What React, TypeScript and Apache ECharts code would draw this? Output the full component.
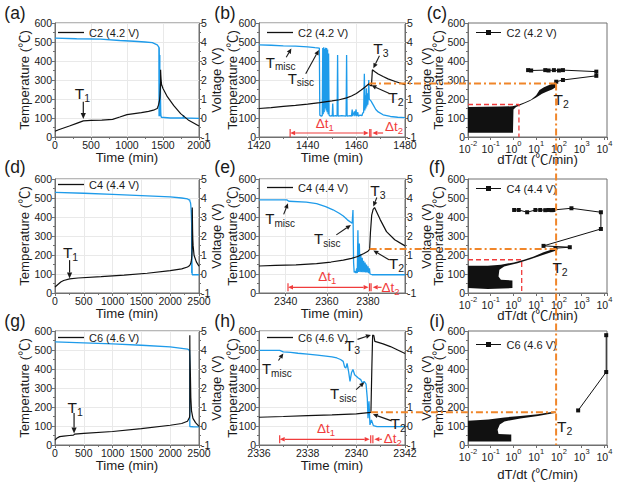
import React, { useEffect, useRef } from "react";
import * as echarts from "echarts";

type P = [number, number];

const FONT = "'Liberation Sans', Arial, 'Noto Sans CJK SC', sans-serif";
const BLACK = "#111111";
const BLUE = "#1E9BEA";
const ORANGE = "#F0862A";
const RED = "#F03C3C";
const AXIS = "#707070";
const TXT = "#1a1a1a";

// ---------------- data ----------------
const cellNames = ["C2 (4.2 V)", "C4 (4.4 V)", "C6 (4.6 V)"];

// Row 1 : C2 (4.2 V)
const aTempPre: P[] = [[0, 30], [50, 38], [100, 45], [200, 58], [300, 72], [393, 85], [500, 87], [650, 89], [800, 93], [900, 105], [1000, 118], [1100, 123], [1200, 128], [1300, 135], [1380, 143]];
const bTemp: P[] = [[1420, 150], [1425, 155], [1430, 161], [1435, 166], [1440, 173], [1445, 181], [1450, 190], [1453, 196], [1456, 206], [1458, 216], [1460, 229], [1462, 247], [1463.5, 262], [1465.2, 280], [1465.7, 272], [1466.2, 268], [1466.6, 354], [1467.5, 345], [1469, 332], [1471, 318], [1473, 306], [1476, 292], [1480, 276]];
const aTempPost: P[] = [[1500, 255], [1560, 212], [1650, 165], [1745, 123], [1850, 90], [2000, 58]];
const aVoltPre: P[] = [[0, 4.2], [300, 4.17], [634, 4.15], [900, 4.08], [1097, 4.04], [1250, 4.0], [1352, 3.97]];
const bVolt: P[] = [[1420, 3.85], [1425, 3.83], [1430, 3.8], [1435, 3.78], [1440, 3.74], [1443, 3.7], [1444.8, 3.68], [1445.0, 0.15], [1445.6, 0.1],
  [1446.0, 0.12], [1446.2, 3.68], [1446.4, 0.2], [1446.6, 3.72], [1446.8, 0.3], [1447.0, 3.65], [1447.2, 0.5], [1447.4, 3.7], [1447.6, 0.4], [1447.8, 3.68], [1448.0, 0.3], [1448.2, 3.6], [1448.4, 0.2], [1448.6, 3.4], [1448.8, 0.15],
  [1449.2, 0.1], [1449.8, 0.12], [1450.1, 0.1], [1450.3, 0.76], [1450.5, 0.1], [1451.5, 0.12], [1452.1, 0.1], [1452.3, 3.32], [1452.5, 0.1], [1454, 0.12], [1455.8, 0.1], [1456.0, 3.32], [1456.2, 0.1], [1457.5, 0.12], [1458.0, 0.1], [1458.3, 0.45], [1458.5, 0.1], [1459.2, 0.35], [1459.4, 0.1], [1459.9, 0.45], [1460.1, 0.1], [1460.6, 0.3], [1460.8, 0.1], [1461.5, 0.15], [1462.3, 0.12], [1462.6, 0.25], [1463.0, 0.3], [1463.3, 2.33], [1463.5, 0.4], [1463.7, 1.2], [1463.9, 0.5], [1464.1, 1.57], [1464.3, 0.6], [1464.5, 1.3], [1464.7, 0.7], [1464.9, 1.1], [1465.1, 2.0], [1465.3, 1.0], [1465.6, 0.95], [1466, 0.9], [1467, 0.68], [1468, 0.45], [1469, 0.32], [1471, 0.17], [1474, 0.08], [1477, 0.04], [1480, 0.02]];
const aVoltPost: P[] = [[1600, 0.0], [1780, 0.0], [1785, 0.15], [1790, 0.0], [2000, -0.02]];

// Row 2 : C4 (4.4 V)
const dTempPre: P[] = [[0, 32], [50, 45], [100, 58], [150, 66], [253, 74], [400, 79], [800, 86], [1200, 94], [1600, 104], [2000, 118], [2200, 127], [2300, 137]];
const eTemp: P[] = [[2327, 142], [2335, 145], [2345, 148], [2355, 155], [2362, 163], [2368, 173], [2372, 182], [2375, 192], [2378, 208], [2380, 220], [2380.8, 230], [2381.2, 320], [2381.8, 410], [2382.5, 440], [2383.2, 450], [2386, 385], [2389, 323], [2393, 280], [2398, 248]];
const dTempPost: P[] = [[2414, 199], [2454, 164], [2500, 141]];
const dVoltPre: P[] = [[0, 4.3], [500, 4.25], [1000, 4.19], [1500, 4.13], [2000, 4.06], [2200, 4.0], [2300, 3.95]];
const eVolt: P[] = [[2327, 3.9], [2340.5, 3.9], [2341.5, 3.83], [2350, 3.78], [2355, 3.7], [2359.4, 3.55], [2363, 3.38], [2366, 3.2], [2368, 3.05], [2370, 2.85], [2372.3, 2.67], [2372.7, 3.37], [2373.0, 0.6], [2373.3, 0.08], [2373.7, 0.15], [2374.1, 0.05], [2374.5, 0.3], [2374.8, 0.05], [2375.1, 2.3], [2375.4, 0.1], [2375.8, 1.6], [2376.1, 0.1], [2376.5, 1.05], [2376.8, 0.1], [2377.2, 0.85], [2377.5, 0.1], [2377.9, 0.7], [2378.2, 0.1], [2378.6, 0.6], [2378.9, 0.08], [2379.3, 0.5], [2379.6, 0.08], [2380.0, 0.4], [2380.3, 0.05], [2380.7, 0.3], [2381, 0.0], [2382, -0.04], [2398, -0.04]];
const dVoltPost: P[] = [[2450, -0.04], [2500, -0.04]];

// Row 3 : C6 (4.6 V)
const gTempPre: P[] = [[0, 26], [30, 35], [80, 44], [150, 47], [250, 50], [320, 52], [340, 57], [500, 61], [1000, 71], [1500, 86], [2000, 104], [2200, 113], [2300, 125]];
const hTemp: P[] = [[2336, 146], [2337, 150], [2338, 155], [2339, 159], [2340, 164], [2340.6, 172], [2340.64, 420], [2340.67, 578], [2340.72, 576], [2340.76, 545], [2340.9, 540], [2341.1, 532], [2341.4, 518], [2341.7, 500], [2342, 482]];
const gTempPost: P[] = [[2350, 380], [2358, 250], [2370, 180], [2395, 140], [2440, 118], [2500, 98]];
const gVoltPre: P[] = [[0, 4.43], [500, 4.38], [1000, 4.32], [1500, 4.25], [2000, 4.16], [2300, 4.05]];
const hVolt: P[] = [[2336, 3.98], [2336.85, 3.98], [2337.0, 3.9], [2337.3, 3.87], [2337.6, 3.83], [2338.0, 3.78], [2338.4, 3.73], [2338.75, 3.68], [2339.0, 3.64], [2339.2, 3.58], [2339.35, 3.5], [2339.46, 3.4], [2339.52, 3.1], [2339.57, 3.05], [2339.62, 3.3], [2339.68, 2.88], [2339.74, 2.35], [2339.8, 2.8], [2339.86, 2.97], [2339.93, 2.7], [2340.0, 2.62], [2340.08, 2.53], [2340.18, 2.44], [2340.25, 2.26], [2340.32, 2.35], [2340.4, 2.2], [2340.45, 1.47], [2340.48, 0.41], [2340.52, 1.3], [2340.56, 0.06], [2340.62, 0.32], [2340.7, 0.02], [2340.85, -0.03], [2342, -0.03]];
const gVoltPost: P[] = [[2400, -0.04], [2500, -0.05]];

// dT/dt vs temperature (log x)
const cBlob: P[] = [[0.01, 158], [0.3, 160], [0.9, 162], [1.5, 168], [3, 182], [6, 198], [10, 220], [14, 248], [22, 262], [35, 272], [55, 283], [76, 291], [78, 265], [50, 250], [30, 240], [18, 228], [10, 208], [5, 188], [2.5, 172], [1.3, 158], [1.0, 145], [0.95, 22], [0.01, 22]];
const cTrail: P[] = [[76, 291], [150, 300], [4400, 322], [4400, 344], [150, 352], [100, 350], [60, 352], [35, 350], [25, 352], [6, 350], [4.4, 352]];
const cRed: P[] = [[0.01, 171], [1.74, 171], [1.74, 0]];
const fBlob: P[] = [[0.01, 143], [0.074, 143], [0.28, 149], [1.05, 161], [2.9, 175], [7.8, 192], [21, 215], [45, 228], [70, 237], [72, 222], [21, 201], [5.5, 178], [1.5, 157], [0.39, 140], [0.24, 122], [0.22, 87], [0.28, 70], [0.9, 66], [0.9, 26], [0.074, 21], [0.01, 26]];
const fTrail: P[] = [[70, 236], [300, 241], [21, 248], [7000, 337], [7000, 425], [355, 446], [57, 437], [48, 436], [35, 437], [25, 436], [15, 437], [9.2, 437], [4.0, 425], [1.7, 437], [1.07, 437]];
const fRed: P[] = [[0.01, 175], [2.3, 175], [2.3, 0]];
const iBlob: P[] = [[0.01, 127], [0.08, 134], [0.4, 145], [2, 153], [12, 162], [65, 176], [75, 170], [12, 152], [2, 140], [0.4, 124], [0.25, 108], [0.2, 80], [0.22, 58], [0.8, 55], [0.8, 18], [0.01, 18]];
const iTrail: P[] = [[700, 182], [12000, 384], [12000, 578]];

// T2 levels / times and the common dT/dt marker
const t2Temp = [282, 232, 173];
const t2Time = [1465.2, 2380.8, 2340.6];
const t2Rate = 75;

// ---------------- layout ----------------
const ROW_TOP = [23, 179, 331];
const ROW_H = 114;
const COL_LEFT = [55, 259, 468];
const COL_W = [144, 146, 139];

const fullRange: [number, number][] = [[0, 2000], [0, 2500], [0, 2500]];
const zoomRange: [number, number][] = [[1420, 1480], [2327, 2398], [2336, 2342]];
const zoomTicks = [[1420, 1440, 1460, 1480], [2340, 2360, 2380], [2336, 2338, 2340, 2342]];
const rateRange: [number, number] = [0.01, 13000];

// annotations (data space of each panel)
const t1Anno = [
  { label: [380, 222] as P, from: [393, 185] as P, to: [393, 95] as P },
  { label: [270, 208] as P, from: [253, 173] as P, to: [253, 76] as P },
  { label: [349, 194] as P, from: [331, 168] as P, to: [331, 60] as P },
];
const midAnno = [
  {
    misc: { label: [1428.9, 388] as P, from: [1431.2, 420] as P, to: [1433.3, 466] as P },
    sisc: { label: [1437.2, 305] as P, from: [1439.2, 333] as P, to: [1444.6, 458] as P },
    t3: { label: [1470.1, 458] as P, from: [1469.5, 428] as P, to: [1467.0, 362] as P },
    t2: { label: [1476.3, 203] as P, from: [1473.6, 229] as P, to: [1466.2, 272] as P },
    dt: { y: 21, start: 1432.8, end: 1465.1, bar2: 1466.0, from2: 1471, to2: 1466.6, lab1: [1447, 67] as P, lab2: [1475.5, 48] as P },
  },
  {
    misc: { label: [2337.3, 385] as P, from: [2339, 414] as P, to: [2341.1, 472] as P },
    sisc: { label: [2360.2, 280] as P, from: [2364.6, 306] as P, to: [2371.7, 358] as P },
    t3: { label: [2384.8, 533] as P, from: [2384.3, 503] as P, to: [2382.6, 455] as P },
    t2: { label: [2393.8, 149] as P, from: [2390.2, 175] as P, to: [2382.6, 224] as P },
    dt: { y: 30, start: 2341.1, end: 2380.3, bar2: 2381.5, from2: 2386.6, to2: 2382.3, lab1: [2360.2, 79] as P, lab2: [2391, 26] as P },
  },
  {
    misc: { label: [2336.73, 397] as P, from: [2336.8, 445] as P, to: [2337.0, 482] as P },
    sisc: { label: [2339.46, 265] as P, from: [2339.99, 291] as P, to: [2340.33, 330] as P },
    t3: { label: [2339.84, 520] as P, from: [2340.05, 556] as P, to: [2340.6, 579] as P },
    t2: { label: [2341.72, 106] as P, from: [2341.45, 127] as P, to: [2340.68, 162] as P },
    dt: { y: 30, start: 2336.85, end: 2340.55, bar2: 2340.68, from2: 2341.05, to2: 2340.74, lab1: [2338.75, 79] as P, lab2: [2341.5, 30] as P },
  },
];
const rightT2Label: P[] = [[126, 194], [112, 131], [178, 92]];
const panelLetters = ["(a)", "(b)", "(c)", "(d)", "(e)", "(f)", "(g)", "(h)", "(i)"];
const letterPos: P[] = [[15, 13], [225, 13], [437, 13], [15, 167], [225, 167], [437, 167], [15, 321], [225, 321], [437, 321]];

const allData = {
  temp: [[...aTempPre, ...bTemp, ...aTempPost], [...dTempPre, ...eTemp, ...dTempPost], [...gTempPre, ...hTemp, ...gTempPost]],
  volt: [[...aVoltPre, ...bVolt, ...aVoltPost], [...dVoltPre, ...eVolt, ...dVoltPost], [...gVoltPre, ...hVolt, ...gVoltPost]],
  zTemp: [bTemp, eTemp, hTemp],
  zVolt: [bVolt, eVolt, hVolt],
  blob: [cBlob, fBlob, iBlob],
  trail: [cTrail, fTrail, iTrail],
  red: [cRed, fRed, null as P[] | null],
};

const plain = (v: number) => String(Math.round(v * 1000) / 1000);

function axisCommon() {
  return {
    axisLine: { show: true, onZero: false, lineStyle: { color: AXIS, width: 1 } },
    axisTick: { show: true, inside: false, length: 3, lineStyle: { color: AXIS } },
    axisLabel: { color: TXT, fontSize: 10.5, fontFamily: FONT, margin: 3, formatter: plain },
    nameTextStyle: { color: TXT, fontSize: 13.2, fontFamily: FONT },
    nameMoveOverlap: false,
  };
}

function buildOption() {
  const grid: any[] = [];
  const xAxis: any[] = [];
  const yAxis: any[] = [];
  const series: any[] = [];
  const legend: any[] = [];

  for (let r = 0; r < 3; r++) {
    for (let c = 0; c < 3; c++) {
      const g = r * 3 + c;
      grid.push({ left: COL_LEFT[c], top: ROW_TOP[r], width: COL_W[c], height: ROW_H, show: true, borderColor: AXIS, borderWidth: 1, backgroundColor: "transparent", containLabel: false, outerBoundsMode: "none" });
      const split = { show: c < 2, lineStyle: { color: "#e9e9e9", width: 1 } };
      if (c === 0) {
        xAxis.push({ ...axisCommon(), gridIndex: g, type: "value", min: fullRange[r][0], max: fullRange[r][1], interval: 500, name: "Time (min)", nameLocation: "middle", nameGap: 14, splitLine: split, minorTick: { show: true, splitNumber: 2, length: 2, lineStyle: { color: AXIS } } });
      } else if (c === 1) {
        const ax: any = { ...axisCommon(), gridIndex: g, type: "value", min: zoomRange[r][0], max: zoomRange[r][1], name: "Time (min)", nameLocation: "middle", nameGap: 14, splitLine: split };
        if (r === 1) {
          ax.axisLabel = { ...ax.axisLabel, customValues: zoomTicks[r] };
          ax.axisTick = { ...ax.axisTick, customValues: zoomTicks[r] };
        } else {
          ax.interval = zoomTicks[r][1] - zoomTicks[r][0];
          ax.minorTick = { show: true, splitNumber: 2, length: 2, lineStyle: { color: AXIS } };
        }
        xAxis.push(ax);
      } else {
        xAxis.push({
          ...axisCommon(), gridIndex: g, type: "log", logBase: 10, min: rateRange[0], max: rateRange[1], splitNumber: 6,
          name: "dT/dt (℃/min)", nameLocation: "middle", nameGap: r === 2 ? 23 : 16, splitLine: { show: false },
          axisLabel: {
            margin: 3, color: TXT,
            formatter: (v: number) => {
              const e = Math.log10(v);
              if (Math.abs(e - Math.round(e)) > 0.02) return "";
              return `{b|10}{s|${Math.round(e)}}`;
            },
            rich: {
              b: { fontSize: 10.5, fontFamily: FONT, color: TXT, padding: [4, 0, 0, 0], verticalAlign: "bottom" },
              s: { fontSize: 7.5, fontFamily: FONT, color: TXT, verticalAlign: "top" },
            },
          },
        });
      }
      yAxis[g] = {
        ...axisCommon(), gridIndex: g, type: "value", position: "left", min: 0, max: 600, interval: 100,
        name: "Temperature (℃)", nameLocation: "middle", nameRotate: 90, nameGap: [24, 20, 23][c], splitLine: split,
        minorTick: { show: true, splitNumber: 2, length: 2, lineStyle: { color: AXIS } },
      };
    }
  }
  for (let r = 0; r < 3; r++) {
    for (let c = 0; c < 2; c++) {
      const g = r * 3 + c;
      yAxis[9 + r * 2 + c] = {
        ...axisCommon(), gridIndex: g, type: "value", position: "right", min: -1, max: 5, interval: 1,
        name: "Voltage (V)", nameLocation: "middle", nameRotate: 90, nameGap: [11, 15][c], splitLine: { show: false },
        axisLabel: { color: TXT, fontSize: 10.5, fontFamily: FONT, margin: 2, formatter: plain },
        minorTick: { show: true, splitNumber: 2, length: 2, lineStyle: { color: AXIS } },
      };
    }
  }

  const legendLeft = [58, 267, 476];
  const legendTop = [[27, 27, 27], [179, 182, 183], [332, 332, 339]];
  for (let r = 0; r < 3; r++) {
    for (let c = 0; c < 3; c++) {
      const g = r * 3 + c;
      const name = `${cellNames[r]}|${g}`;
      if (c < 2) {
        const tData = c === 0 ? allData.temp[r] : allData.zTemp[r];
        const vData = c === 0 ? allData.volt[r] : allData.zVolt[r];
        series.push({ type: "line", name: `V|${g}`, xAxisIndex: g, yAxisIndex: 9 + r * 2 + c, data: vData, symbol: "none", lineStyle: { color: BLUE, width: 1.3 }, itemStyle: { color: BLUE }, z: 2, animation: false });
        series.push({ type: "line", name, xAxisIndex: g, yAxisIndex: g, data: tData, symbol: "none", lineStyle: { color: BLACK, width: 1.2 }, itemStyle: { color: BLACK }, z: 3, animation: false });
      } else {
        const blob = allData.blob[r];
        series.push({
          type: "custom", name: `blob|${g}`, xAxisIndex: g, yAxisIndex: g, data: [[1, 100]], silent: true, z: 2, clip: true,
          renderItem: (_p: any, api: any) => ({ type: "polygon", shape: { points: blob.map((p) => api.coord(p)) }, style: { fill: BLACK } }),
        });
        series.push({ type: "line", name, xAxisIndex: g, yAxisIndex: g, data: allData.trail[r], symbol: "rect", symbolSize: 4, showSymbol: true, lineStyle: { color: BLACK, width: 1 }, itemStyle: { color: BLACK }, z: 3, animation: false });
        const red = allData.red[r];
        if (red) series.push({ type: "line", name: `red|${g}`, xAxisIndex: g, yAxisIndex: g, data: red, symbol: "none", lineStyle: { color: RED, width: 1.3, type: [5, 3] }, z: 4, animation: false });
      }
      legend.push({
        show: true, data: [name], left: legendLeft[c], top: legendTop[r][c], orient: "horizontal",
        icon: c < 2 ? "rect" : "path://M0,4.4H25V5.6H0Z M10,2.5H15V7.5H10Z",
        itemWidth: 26, itemHeight: c < 2 ? 1.3 : 5, itemGap: 4, padding: 0,
        itemStyle: { color: BLACK, borderWidth: 0 },
        selectedMode: false, formatter: (n: string) => n.split("|")[0], textStyle: { fontSize: 11, fontFamily: FONT, color: TXT },
      });
    }
  }

  return { animation: false, backgroundColor: "#ffffff", grid, xAxis, yAxis, series, legend };
}

function subText(p: number[], main: string, sub: string, color: string, size: number, subSize: number) {
  return {
    type: "text", x: p[0], y: p[1], z: 100, silent: true,
    style: {
      text: `{m|${main}}{s|${sub}}`, align: "center", verticalAlign: "middle",
      rich: {
        m: { fontSize: size, fontFamily: FONT, fill: color, lineHeight: size + 2, verticalAlign: "top" },
        s: { fontSize: subSize, fontFamily: FONT, fill: color, lineHeight: subSize + 1, verticalAlign: "bottom", padding: [Math.round(size * 0.6), 0, 0, 0] },
      },
    },
  };
}

function arrow(p1: number[], p2: number[], color: string, w = 1.1, head = 6, hw = 2.6, both = false) {
  const dx = p2[0] - p1[0], dy = p2[1] - p1[1];
  const L = Math.hypot(dx, dy) || 1;
  const ux = dx / L, uy = dy / L;
  const bx = p2[0] - ux * head, by = p2[1] - uy * head;
  const sx = both ? p1[0] + ux * head : p1[0], sy = both ? p1[1] + uy * head : p1[1];
  const els: any[] = [
    { type: "line", z: 100, silent: true, shape: { x1: sx, y1: sy, x2: bx, y2: by }, style: { stroke: color, lineWidth: w } },
    { type: "polygon", z: 100, silent: true, shape: { points: [[p2[0], p2[1]], [bx - uy * hw, by + ux * hw], [bx + uy * hw, by - ux * hw]] }, style: { fill: color } },
  ];
  if (both) els.push({ type: "polygon", z: 100, silent: true, shape: { points: [[p1[0], p1[1]], [sx - uy * hw, sy + ux * hw], [sx + uy * hw, sy - ux * hw]] }, style: { fill: color } });
  return els;
}

function vbar(x: number, y: number, color: string) {
  return { type: "line", z: 100, silent: true, shape: { x1: x, y1: y - 4, x2: x, y2: y + 4 }, style: { stroke: color, lineWidth: 1.2 } };
}

function buildGraphics(chart: any) {
  const px = (g: number, p: P): number[] => chart.convertToPixel({ xAxisIndex: g, yAxisIndex: g }, p) as number[];
  const els: any[] = [];
  panelLetters.forEach((t, i) => {
    els.push({ type: "text", x: letterPos[i][0], y: letterPos[i][1], z: 100, silent: true, style: { text: t, fontSize: 17.5, fontFamily: FONT, fill: TXT, align: "center", verticalAlign: "middle" } });
  });
  for (let r = 0; r < 3; r++) {
    const gL = r * 3, gM = r * 3 + 1, gR = r * 3 + 2;
    const t1 = t1Anno[r];
    els.push(subText(px(gL, t1.label), "T", "1", TXT, 15.5, 10.5));
    els.push(...arrow(px(gL, t1.from), px(gL, t1.to), TXT, 1.2, 6, 2.6));
    const m = midAnno[r];
    els.push(subText(px(gM, m.misc.label), "T", "misc", TXT, 15, 10));
    els.push(...arrow(px(gM, m.misc.from), px(gM, m.misc.to), TXT, 1.1, 5, 2.3));
    els.push(subText(px(gM, m.sisc.label), "T", "sisc", TXT, 15, 10));
    els.push(...arrow(px(gM, m.sisc.from), px(gM, m.sisc.to), TXT, 1.1, 5, 2.3));
    els.push(subText(px(gM, m.t3.label), "T", "3", TXT, 15.5, 10.5));
    els.push(...arrow(px(gM, m.t3.from), px(gM, m.t3.to), TXT, 1.1, 5, 2.3));
    els.push(subText(px(gM, m.t2.label), "T", "2", TXT, 15.5, 10.5));
    els.push(...arrow(px(gM, m.t2.from), px(gM, m.t2.to), TXT, 1.1, 5, 2.3));
    const dt = m.dt;
    const ps = px(gM, [dt.start, dt.y]);
    const pe = px(gM, [dt.end, dt.y]);
    const pb = px(gM, [dt.bar2, dt.y]);
    const pf = px(gM, [dt.from2, dt.y]);
    const pt = px(gM, [dt.to2, dt.y]);
    els.push(vbar(ps[0], ps[1], RED), vbar(pe[0] + 1, pe[1], RED), vbar(pb[0], pb[1], RED));
    els.push(...arrow(ps, pe, RED, 1.2, 5, 2.3, true));
    els.push(...arrow(pf, pt, RED, 1.2, 5, 2.3));
    els.push(subText(px(gM, dt.lab1), "Δt", "1", RED, 13.5, 9.5));
    els.push(subText(px(gM, dt.lab2), "Δt", "2", RED, 13.5, 9.5));
    els.push(subText(px(gR, rightT2Label[r]), "T", "2", TXT, 15.5, 10.5));
    // orange dash-dot from T2 to the common dT/dt marker
    const o1 = px(gM, [t2Time[r], t2Temp[r]]);
    const o2 = px(gR, [t2Rate, t2Temp[r]]);
    els.push({ type: "line", z: 90, silent: true, shape: { x1: o1[0], y1: o1[1], x2: o2[0], y2: o1[1] }, style: { stroke: ORANGE, lineWidth: 2, lineDash: [7, 3, 2, 3] } });
  }
  const v1 = px(2, [t2Rate, t2Temp[0]]);
  const v2 = px(8, [t2Rate, 0]);
  els.push({ type: "line", z: 90, silent: true, shape: { x1: v1[0], y1: v1[1], x2: v1[0], y2: v2[1] }, style: { stroke: ORANGE, lineWidth: 2, lineDash: [7, 3, 2, 3] } });
  return els;
}

export default function App() {
  const ref = useRef<HTMLDivElement>(null);
  useEffect(() => {
    const el = ref.current;
    if (!el) return;
    const chart = echarts.init(el, null, { renderer: "svg" });
    chart.setOption(buildOption() as any);
    chart.setOption({ graphic: buildGraphics(chart) } as any);
    return () => chart.dispose();
  }, []);
  return <div ref={ref} style={{ position: "fixed", left: 0, top: 0, width: 617, height: 483, background: "#fff" }} />;
}
